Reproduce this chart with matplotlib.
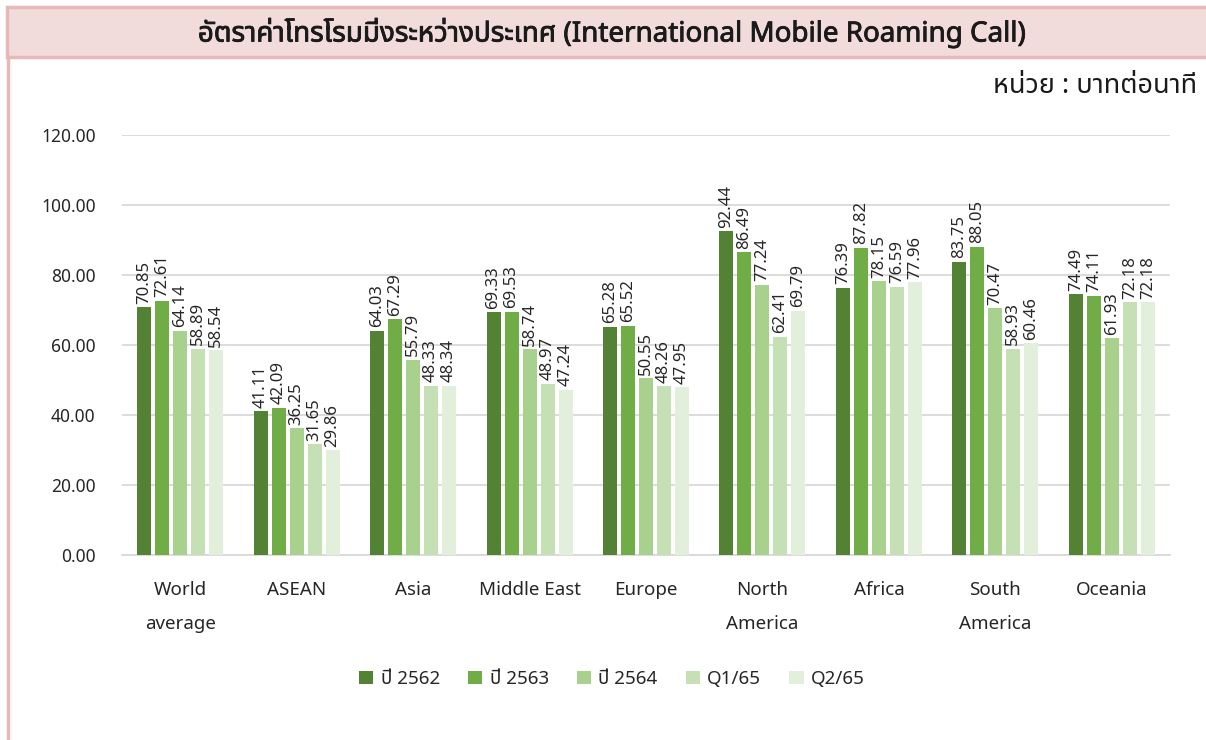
import matplotlib
matplotlib.use("Agg")
import matplotlib.pyplot as plt
import matplotlib.patheffects as pe
import numpy as np
from matplotlib import font_manager
from matplotlib.ft2font import FT2Font
from matplotlib.patches import Rectangle

categories = ["World\naverage", "ASEAN", "Asia", "Middle East", "Europe",
              "North\nAmerica", "Africa", "South\nAmerica", "Oceania"]
series_names = ["ปี 2562", "ปี 2563", "ปี 2564", "Q1/65", "Q2/65"]
y2562 = [70.85, 41.11, 64.03, 69.33, 65.28, 92.44, 76.39, 83.75, 74.49]
y2563 = [72.61, 42.09, 67.29, 69.53, 65.52, 86.49, 87.82, 88.05, 74.11]
y2564 = [64.14, 36.25, 55.79, 58.74, 50.55, 77.24, 78.15, 70.47, 61.93]
q165 = [58.89, 31.65, 48.33, 48.97, 48.26, 62.41, 76.59, 58.93, 72.18]
q265 = [58.54, 29.86, 48.34, 47.24, 47.95, 69.79, 77.96, 60.46, 72.18]
yticks = [0, 20, 40, 60, 80, 100, 120]
colors = ["#548235", "#70AD47", "#A9D18E", "#C5E0B4", "#E2EFDA"]

# find a font with Thai glyphs
thai_font = None
pref = ["Noto Sans Thai", "Noto Sans Thai UI", "Leelawadee UI", "Tahoma", "Loma", "Garuda", "Norasi", "Sarabun"]
cands = []
for f in font_manager.fontManager.ttflist:
    try:
        ft = FT2Font(f.fname)
        cm = ft.get_charmap()
        if 0x0E2D in cm and 0x0E32 in cm:
            cands.append(f.name)
    except Exception:
        pass
for p in pref:
    if p in cands:
        thai_font = p
        break
if thai_font is None and cands:
    thai_font = cands[0]
fam = ([thai_font] if thai_font else []) + ["DejaVu Sans"]
plt.rcParams['font.family'] = fam

W, H = 1206, 740
fig = plt.figure(figsize=(W / 100, H / 100), dpi=100)

# title band
fig.patches.append(Rectangle((7 / W, 1 - 57 / H), 1.0, 50 / H, transform=fig.transFigure,
                             facecolor="#F2DCDB", edgecolor="#E6B9B8", linewidth=2.5))
fig.add_artist(plt.Line2D([7.5 / W, 7.5 / W], [0, 1 - 57 / H], transform=fig.transFigure,
                          color="#E6B9B8", linewidth=2.5))
fig.text(612 / W, 1 - 33 / H, "อัตราค่าโทรโรมมิ่งระหว่างประเทศ (International Mobile Roaming Call)",
         ha="center", va="center", fontsize=20, color="#1a1a1a",
         path_effects=[pe.withStroke(linewidth=0.6, foreground="#1a1a1a")])
fig.text(1197 / W, 1 - 86 / H, "หน่วย : บาทต่อนาที", ha="right", va="center", fontsize=19.5, color="#1a1a1a")

ax = fig.add_axes([122 / W, 1 - 555 / H, (1170 - 122) / W, (555 - 135) / H])
series = [y2562, y2563, y2564, q165, q265]
x = np.arange(len(categories))
step = 18 / 116.4
bw = 14 / 116.4
for i, (vals, c, name) in enumerate(zip(series, colors, series_names)):
    pos = x + (i - 2) * step
    ax.bar(pos, vals, width=bw, color=c, label=name, zorder=3)
    for xp, v in zip(pos, vals):
        ax.text(xp, v + 1.0, f"{v:.2f}", rotation=90, ha="center", va="bottom",
                fontsize=12, color="#262626", zorder=4)

ax.set_xlim(-0.5, len(categories) - 0.5)
ax.set_ylim(0, 120)
ax.set_yticks(yticks)
ax.set_yticklabels([f"{t:.2f}" for t in yticks], fontsize=12.5, color="#262626")
ax.set_xticks(x)
ax.set_xticklabels(categories, fontsize=13.5, color="#262626", linespacing=2.1, va="top")
ax.tick_params(axis="both", length=0)
ax.tick_params(axis="x", pad=19)
ax.tick_params(axis="y", pad=19)
ax.grid(axis="y", color="#D9D9D9", linewidth=1.3, zorder=0)
for s in ["left", "right", "top"]:
    ax.spines[s].set_visible(False)
ax.spines["bottom"].set_color("#D9D9D9")
ax.spines["bottom"].set_linewidth(1.3)

leg = fig.legend(loc="center", bbox_to_anchor=(612 / W, 1 - 679 / H), ncol=5, frameon=False,
                 fontsize=13.5, handlelength=0.75, handleheight=0.75, handletextpad=0.4,
                 columnspacing=1.5)
for t in leg.get_texts():
    t.set_color("#262626")

fig.savefig("out.png", dpi=100)
